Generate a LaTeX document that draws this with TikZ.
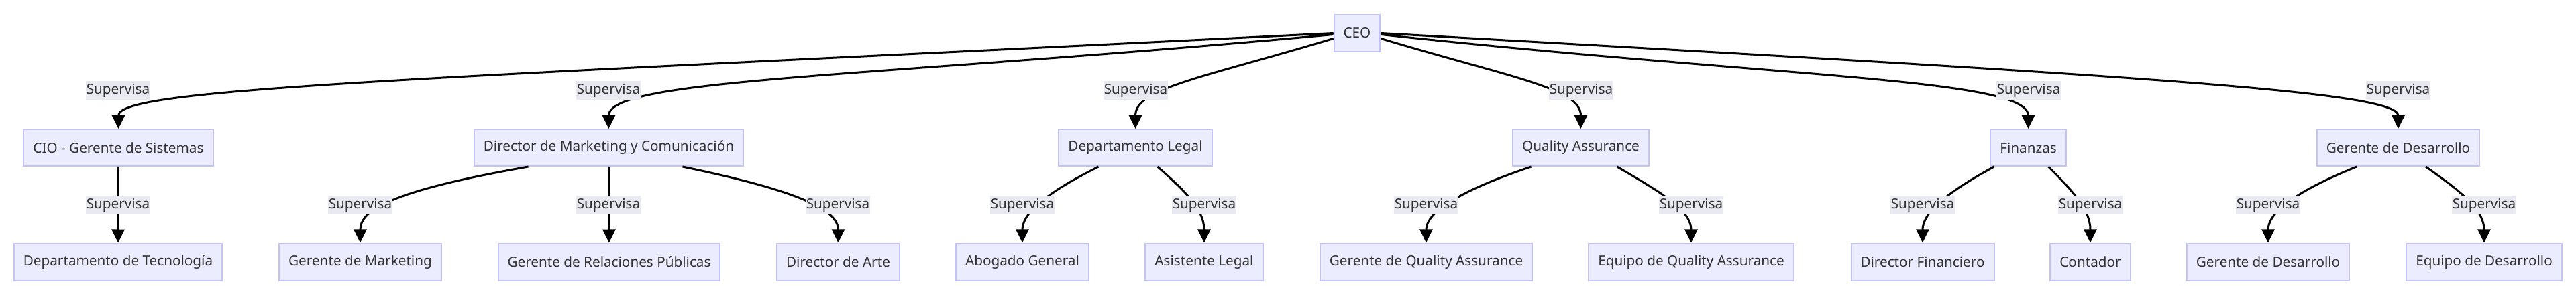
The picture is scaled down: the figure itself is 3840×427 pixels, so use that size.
\documentclass[tikz,border=0pt]{standalone}
\usepackage{fontspec}
\setmainfont{Noto Sans}
\usetikzlibrary{arrows.meta}
\definecolor{boxfill}{HTML}{ECECFF}
\definecolor{boxline}{HTML}{C3C3F7}
\definecolor{labelfill}{HTML}{E9E9F1}
\definecolor{txt}{HTML}{333333}
\begin{document}
\begin{tikzpicture}[x=1pt, y=-1pt,
        box/.style={draw=boxline, line width=2pt, fill=boxfill, text=txt, minimum height=55pt, inner xsep=14pt, font=\fontsize{20.7}{24}\selectfont},
        sup/.style={fill=labelfill, text=txt, inner xsep=1pt, inner ysep=0pt, minimum height=28pt, font=\fontsize{20.7}{24}\selectfont},
        link/.style={line width=3pt, -{Triangle[length=20pt,width=19pt]}}]
        \useasboundingbox (0,0) rectangle (3840,427);

        % boxes
        \node[box] (ceo) at (2023,49.5) {CEO};
        \node[box] (cio) at (176.5,220.5) {CIO - Gerente de Sistemas};
        \node[box] (mkt) at (907.5,220.5) {Director de Marketing y Comunicación};
        \node[box] (legal) at (1692.5,220.5) {Departamento Legal};
        \node[box] (qa) at (2356.5,220.5) {Quality Assurance};
        \node[box] (fin) at (3023.5,220.5) {Finanzas};
        \node[box] (des) at (3575,220.5) {Gerente de Desarrollo};

        \node[box] (tec) at (176,391) {Departamento de Tecnología};
        \node[box] (gmkt) at (537,391) {Gerente de Marketing};
        \node[box] (rrpp) at (908,391) {Gerente de Relaciones Públicas};
        \node[box] (arte) at (1249.5,391) {Director de Arte};
        \node[box] (abog) at (1524,391) {Abogado General};
        \node[box] (asis) at (1795,391) {Asistente Legal};
        \node[box] (gqa) at (2126,391) {Gerente de Quality Assurance};
        \node[box] (eqa) at (2521,391) {Equipo de Quality Assurance};
        \node[box] (dfin) at (2866,391) {Director Financiero};
        \node[box] (cont) at (3116,391) {Contador};
        \node[box] (gdes) at (3381,391) {Gerente de Desarrollo};
        \node[box] (edes) at (3703,391) {Equipo de Desarrollo};

        % CEO links
        \draw[link] (ceo.west) .. controls +(-1400,70) and +(0,-60) .. (cio.north);
        \draw[link] ([yshift=-2pt]ceo.west) .. controls +(-700,65) and +(0,-75) .. (mkt.north);
        \draw[link] ([yshift=-8pt]ceo.west) .. controls +(-200,60) and +(0,-60) .. (legal.north);
        \draw[link] ([yshift=-8pt]ceo.east) .. controls +(200,60) and +(0,-60) .. (qa.north);
        \draw[link] ([yshift=-2pt]ceo.east) .. controls +(600,65) and +(0,-75) .. (fin.north);
        \draw[link] (ceo.east) .. controls +(1150,65) and +(0,-55) .. (des.north);

        % second level links
        \draw[link] (cio) -- (tec);
        \draw[link] ([xshift=-120pt]mkt.south) .. controls +(-200,35) and +(0,-50) .. (gmkt.north);
        \draw[link] (mkt) -- (rrpp);
        \draw[link] ([xshift=110pt]mkt.south) .. controls +(170,35) and +(0,-50) .. (arte.north);
        \draw[link] ([xshift=-55pt]legal.south) .. controls +(-60,30) and +(0,-50) .. (abog.north);
        \draw[link] ([xshift=33pt]legal.south) .. controls +(40,35) and +(0,-50) .. (asis.north);
        \draw[link] ([xshift=-74pt]qa.south) .. controls +(-90,30) and +(0,-50) .. (gqa.north);
        \draw[link] ([xshift=54pt]qa.south) .. controls +(60,35) and +(0,-50) .. (eqa.north);
        \draw[link] ([xshift=-51pt]fin.south) .. controls +(-55,30) and +(0,-50) .. (dfin.north);
        \draw[link] ([xshift=30pt]fin.south) .. controls +(35,35) and +(0,-50) .. (cont.north);
        \draw[link] ([xshift=-62pt]des.south) .. controls +(-75,30) and +(0,-50) .. (gdes.north);
        \draw[link] ([xshift=41pt]des.south) .. controls +(50,35) and +(0,-50) .. (edes.north);

        % labels
        \foreach \n/\x in {cio/176, mkt/907, legal/1693, qa/2357, fin/3024, des/3575}
            \node[sup] (sup-\n) at (\x,135) {Supervisa};
        \foreach \n/\x in {tec/176, gmkt/537, rrpp/907, arte/1249, abog/1524, asis/1795, gqa/2126, eqa/2521, dfin/2866, cont/3116, gdes/3381, edes/3703}
            \node[sup] (sup-\n) at (\x,306) {Supervisa};
    \end{tikzpicture}
\end{document}
